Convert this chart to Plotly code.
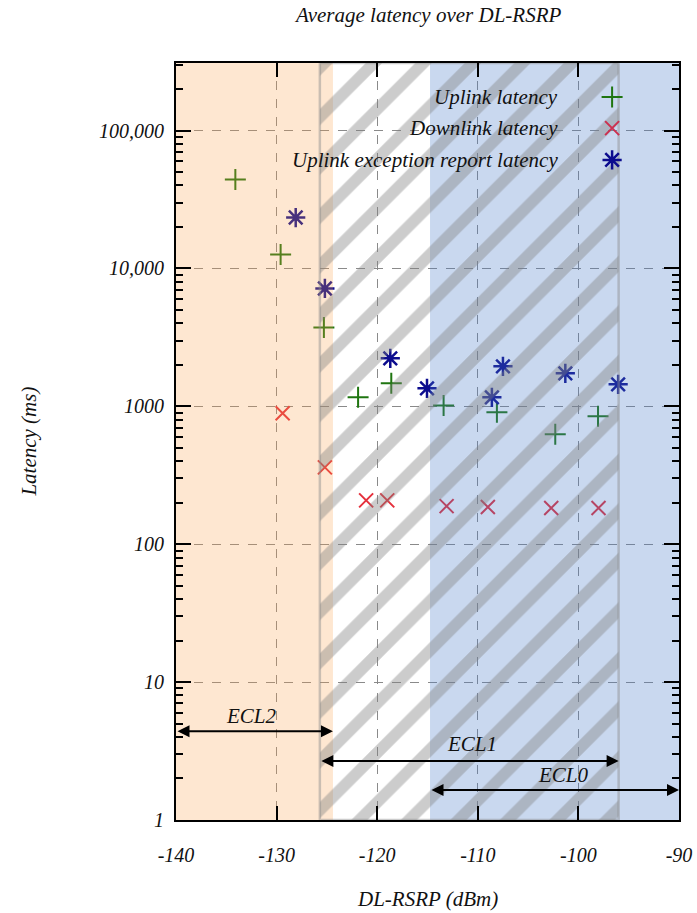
import plotly.graph_objects as go
import numpy as np

# ---------------- data ----------------
ul_x = [-134.1, -129.6, -125.3, -121.9, -118.6, -113.4, -108.1, -102.3, -98.05]
ul_y = [44200, 12600, 3735, 1162, 1468, 1016, 905, 627, 847]

dl_x = [-129.4, -125.2, -121.1, -119.0, -113.1, -109.0, -102.7, -98.0]
dl_y = [890, 361, 208, 208, 189, 186, 183, 183]

ex_x = [-128.1, -125.2, -118.7, -115.05, -108.6, -107.5, -101.3, -96.05]
ex_y = [23400, 7160, 2228, 1350, 1162, 1950, 1735, 1444]

series_names = ["Uplink latency", "Downlink latency", "Uplink exception report latency"]

# coverage-class regions (dBm)
ecl2_range = [-140, -124.4]
ecl1_range = [-125.7, -96.0]
ecl0_range = [-114.75, -90]
region_labels = ["ECL2", "ECL1", "ECL0"]
arrow_levels = [4.4, 2.68, 1.65]      # latency (ms) at which range arrows are drawn
label_x = [-132.45, -110.6, -101.5]
label_levels = [5.7, 3.56, 2.12]

x_ticks = [-140, -130, -120, -110, -100, -90]
x_ticktext = ["-140", "-130", "-120", "-110", "-100", "-90"]
y_ticks = [1, 10, 100, 1000, 10000, 100000]
y_ticktext = ["1", "10", "100", "1000", "10,000", "100,000"]

# ---------------- style ----------------
FONT = "Liberation Serif"
GREEN = "#1f7510"
RED = "#e5303c"
NAVY = "#0c0c8e"
y_top_log = 5.49
y_bot_log = 0.0
y_lo, y_hi = 10 ** y_bot_log, 10 ** y_top_log

fig = go.Figure()

fig.add_trace(go.Scatter(x=ul_x, y=ul_y, mode="markers", name=series_names[0],
                         marker=dict(symbol="cross-thin", size=15, line=dict(width=2, color=GREEN), color=GREEN),
                         showlegend=False))
fig.add_trace(go.Scatter(x=dl_x, y=dl_y, mode="markers", name=series_names[1],
                         marker=dict(symbol="x-thin", size=14, line=dict(width=2, color=RED), color=RED),
                         showlegend=False))
fig.add_trace(go.Scatter(x=ex_x, y=ex_y, mode="markers", name=series_names[2],
                         marker=dict(symbol="asterisk", size=16, line=dict(width=2.5, color=NAVY), color=NAVY),
                         showlegend=False))


def rect(xr):
    return [xr[0], xr[1], xr[1], xr[0], xr[0]], [y_lo, y_lo, y_hi, y_hi, y_lo]


# orange overlay (ECL2)
rx, ry = rect(ecl2_range)
fig.add_trace(go.Scatter(x=rx, y=ry, fill="toself", mode="lines", line=dict(width=0),
                         fillcolor="rgba(250,160,70,0.25)", hoverinfo="skip", showlegend=False))
# blue overlay (ECL0)
rx, ry = rect(ecl0_range)
fig.add_trace(go.Scatter(x=rx, y=ry, fill="toself", mode="lines", line=dict(width=0),
                         fillcolor="rgba(70,120,200,0.29)", hoverinfo="skip", showlegend=False))
# hatched region (ECL1)
rx, ry = rect(ecl1_range)
fig.add_trace(go.Scatter(x=rx, y=ry, fill="toself", mode="lines",
                         line=dict(width=2.5, color="rgba(140,140,140,0.45)"),
                         fillcolor="rgba(0,0,0,0)",
                         fillpattern=dict(shape="/", size=35, solidity=0.33,
                                          fgcolor="rgb(128,128,128)", fgopacity=0.4,
                                          bgcolor="rgba(0,0,0,0)"),
                         hoverinfo="skip", showlegend=False))

# legend keys on an overlay axis (layout coordinates 0..1)
leg_key_x = [0.867, 0.867, 0.867]
leg_key_y = [0.955, 0.914, 0.872]
fig.add_trace(go.Scatter(x=leg_key_x[:1], y=leg_key_y[:1], xaxis="x2", yaxis="y2", mode="markers",
                         marker=dict(symbol="cross-thin", size=15, line=dict(width=2, color=GREEN)),
                         showlegend=False, hoverinfo="skip"))
fig.add_trace(go.Scatter(x=leg_key_x[1:2], y=leg_key_y[1:2], xaxis="x2", yaxis="y2", mode="markers",
                         marker=dict(symbol="x-thin", size=14, line=dict(width=2, color="#cc3050")),
                         showlegend=False, hoverinfo="skip"))
fig.add_trace(go.Scatter(x=leg_key_x[2:], y=leg_key_y[2:], xaxis="x2", yaxis="y2", mode="markers",
                         marker=dict(symbol="asterisk", size=16, line=dict(width=2.5, color=NAVY)),
                         showlegend=False, hoverinfo="skip"))

annotations = []
font_it = dict(family=FONT, size=21, color="#111111", style="italic")
for name, ky in zip(series_names, leg_key_y):
    annotations.append(dict(xref="paper", yref="paper", x=0.763, y=ky, text=name, showarrow=False,
                            xanchor="right", yanchor="middle", font=font_it))

ranges = [ecl2_range, ecl1_range, ecl0_range]
for lab, xr, lvl, lx, ll in zip(region_labels, ranges, arrow_levels, label_x, label_levels):
    annotations.append(dict(x=xr[1], y=np.log10(lvl), ax=xr[0], ay=np.log10(lvl),
                            xref="x", yref="y", axref="x", ayref="y", text="",
                            showarrow=True, arrowhead=2, startarrowhead=2, arrowside="end+start",
                            arrowsize=1.2, startarrowsize=1.2, arrowwidth=2, arrowcolor="black",
                            standoff=0, startstandoff=0))
    annotations.append(dict(x=lx, y=np.log10(ll), xref="x", yref="y", text=lab, showarrow=False,
                            xanchor="center", yanchor="middle", font=font_it))

# titles
annotations.append(dict(xref="paper", yref="paper", x=0.5, y=1.0634, text="Average latency over DL-RSRP",
                        showarrow=False, xanchor="center", yanchor="middle", font=font_it))
annotations.append(dict(xref="paper", yref="paper", x=0.5, y=-0.105, text="DL-RSRP (dBm)",
                        showarrow=False, xanchor="center", yanchor="middle", font=font_it))
annotations.append(dict(xref="paper", yref="paper", x=-0.294, y=0.5, text="Latency (ms)", textangle=-90,
                        showarrow=False, xanchor="center", yanchor="middle", font=font_it))

minor_y = [k * 10 ** d for d in range(0, 6) for k in range(2, 10)]
tick_font = dict(family=FONT, size=20, style="italic", color="#111111")

fig.update_layout(
    width=697, height=913,
    margin=dict(l=176, r=18, t=63, b=93, autoexpand=False),
    paper_bgcolor="white", plot_bgcolor="white",
    font=dict(family=FONT, size=20, color="black", style="italic"),
    annotations=annotations,
    xaxis=dict(range=[-140, -90], tickvals=x_ticks, ticktext=x_ticktext, automargin=False,
               showline=True, linecolor="black", linewidth=2, mirror="ticks",
               ticks="inside", ticklen=14, tickwidth=2, tickcolor="black",
               showgrid=True, gridcolor="#8a8a8a", griddash="dash", gridwidth=1,
               zeroline=False, ticklabelstandoff=16, tickfont=tick_font),
    yaxis=dict(type="log", range=[y_bot_log, y_top_log], tickvals=y_ticks, ticktext=y_ticktext,
               automargin=False,
               showline=True, linecolor="black", linewidth=2, mirror="ticks",
               ticks="inside", ticklen=15, tickwidth=2, tickcolor="black",
               showgrid=True, gridcolor="#8a8a8a", griddash="dash", gridwidth=1,
               zeroline=False, ticklabelstandoff=6,
               minor=dict(tickvals=minor_y, ticks="inside", ticklen=7, tickwidth=2,
                          tickcolor="black", showgrid=False),
               tickfont=tick_font),
    xaxis2=dict(overlaying="x", range=[0, 1], visible=False, fixedrange=True),
    yaxis2=dict(overlaying="y", range=[0, 1], visible=False, fixedrange=True),
    showlegend=False,
)

fig.write_html("out.html")
